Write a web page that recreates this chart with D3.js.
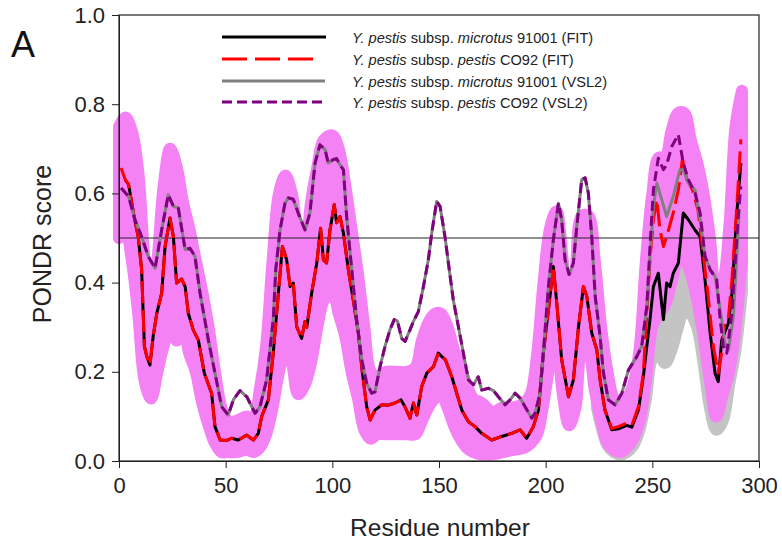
<!DOCTYPE html>
<html>
<head>
<meta charset="utf-8">
<script src="https://cdn.jsdelivr.net/npm/d3@7"></script>
<style>
  html, body { margin: 0; padding: 0; background: #fff; }
  svg { display: block; font-family: "Liberation Sans", Arial, sans-serif; }
</style>
</head>
<body>
<svg id="chart" width="782" height="546"></svg>
<script>
// ---------------- DATA ----------------
const xTicks = [0, 50, 100, 150, 200, 250, 300];
const yTicks = [0.0, 0.2, 0.4, 0.6, 0.8, 1.0];
const threshold = 0.5;

// Y. pestis subsp. pestis CO92 (FIT) – red dashed
const fitPestisRes = [1,3,4.5,7,9,10.6,11.9,13,14.5,16,17.7,20,21.6,23.9,25.5,27,29.4,31,32.5,34.8,37.2,40,43.4,45,47.4,50.5,52.8,55.9,59.9,63,65.3,66.9,70,72.3,74.7,76.6,78.6,80.2,81.7,83.3,85.6,87.2,88,90.3,92.7,94.5,95.8,97.3,98.9,100.9,102,103.6,105.2,107.5,109.8,112.2,114.1,116.1,117.7,120,123.2,126,129.4,132.2,134,136.4,138,139.6,141.9,144.3,147.4,149.7,152,153,156,158.3,160.7,163.8,166.9,170,174.7,179.4,184.1,188,191.1,194.2,196.6,198.9,201.3,203.6,205.2,207.5,210.7,213,215.4,217.7,219.3,221.6,224,225.5,227.8,231,234.1,238,240.4,243.5,245.8,247.4,248.9,250.5,252.1,253.6,255.2,256.7,259.8,262.2,264.1,266.2,268.8,271.4,273.8,276.2,278.6,280.9,282.5,284,285.7,287.3,289.6,291.5];
const fitPestisVal = [0.657,0.63,0.62,0.55,0.503,0.43,0.257,0.235,0.215,0.279,0.331,0.376,0.481,0.545,0.503,0.399,0.408,0.391,0.331,0.294,0.271,0.197,0.152,0.077,0.047,0.046,0.051,0.047,0.058,0.047,0.062,0.1,0.137,0.242,0.376,0.481,0.451,0.391,0.399,0.301,0.275,0.313,0.30,0.376,0.444,0.522,0.451,0.444,0.518,0.575,0.534,0.548,0.511,0.429,0.361,0.287,0.197,0.122,0.092,0.114,0.126,0.125,0.13,0.137,0.122,0.096,0.13,0.103,0.167,0.197,0.212,0.242,0.231,0.227,0.189,0.152,0.114,0.088,0.077,0.062,0.047,0.055,0.062,0.07,0.051,0.077,0.114,0.242,0.339,0.436,0.354,0.227,0.144,0.182,0.301,0.391,0.369,0.287,0.249,0.182,0.114,0.073,0.077,0.085,0.08,0.122,0.197,0.331,0.451,0.541,0.586,0.518,0.481,0.503,0.556,0.608,0.676,0.631,0.608,0.563,0.466,0.369,0.257,0.197,0.242,0.309,0.324,0.406,0.571,0.721];

// Y. pestis subsp. microtus 91001 (FIT) – black solid
const fitMicrotusRes = [3,4.5,7,9,10.6,11.9,13,14.5,16,17.7,20,21.6,23.9,25.5,27,29.4,31,32.5,34.8,37.2,40,43.4,45,47.4,50.5,52.8,55.9,59.9,63,65.3,66.9,70,72.3,74.7,76.6,78.6,80.2,81.7,83.3,85.6,87.2,88,90.3,92.7,94.5,95.8,97.3,98.9,100.9,102,103.6,105.2,107.5,109.8,112.2,114.1,116.1,117.7,120,123.2,126,129.4,132.2,134,136.4,138,139.6,141.9,144.3,147.4,149.7,152,153,156,158.3,160.7,163.8,166.9,170,174.7,179.4,184.1,188,191.1,194.2,196.6,198.9,201.3,203.6,205.2,207.5,210.7,213,215.4,217.7,219.3,221.6,224,225.5,227.8,231,234.1,238,240.4,243.5,245.8,247,248.9,250.5,252.8,255.2,256.7,258.3,259.8,262.2,264.5,266.9,270,272.4,274.7,277.1,279.4,280.9,282.5,285.7,287.3,289.6,291.5];
const fitMicrotusVal = [0.63,0.62,0.55,0.503,0.43,0.257,0.235,0.215,0.279,0.331,0.376,0.481,0.545,0.503,0.399,0.408,0.391,0.331,0.294,0.271,0.197,0.152,0.077,0.047,0.046,0.051,0.047,0.058,0.047,0.062,0.1,0.137,0.242,0.376,0.481,0.451,0.391,0.399,0.301,0.275,0.313,0.30,0.376,0.444,0.522,0.451,0.444,0.518,0.575,0.534,0.548,0.511,0.429,0.361,0.287,0.197,0.122,0.092,0.114,0.126,0.125,0.13,0.137,0.122,0.096,0.13,0.103,0.167,0.197,0.212,0.242,0.231,0.227,0.189,0.152,0.114,0.088,0.077,0.062,0.047,0.055,0.062,0.07,0.051,0.077,0.114,0.242,0.339,0.436,0.354,0.227,0.144,0.182,0.301,0.391,0.369,0.287,0.249,0.182,0.114,0.07,0.072,0.08,0.076,0.115,0.19,0.24,0.317,0.391,0.421,0.317,0.399,0.391,0.421,0.444,0.556,0.541,0.518,0.503,0.406,0.287,0.197,0.178,0.271,0.31,0.376,0.556,0.668];

// Y. pestis subsp. pestis CO92 (VSL2) – purple short-dashed
const vslPestisRes = [1,4.5,7.5,10.6,13.7,16.9,20,23.1,25.5,27.8,31,33.3,35.6,38,41.9,45,48.1,51.2,53.6,56.7,59.9,63.8,66.1,69.2,72.3,73.5,75.5,77.8,79.4,81.7,84,87.2,89.5,91.9,94.2,96.6,98.1,100.5,102,103.6,105.2,106.7,109.1,111.4,113.8,116.1,118.5,120,122.4,124.7,127,129,130.5,132.5,134.1,136.4,138,140.3,142.7,145,146.6,148.9,150.5,152.8,154.4,156.7,159.1,161.4,163.8,166.1,168.4,170,173.2,175.5,177.8,181,183.3,185.7,188,190.3,193.5,195,197.4,198.9,201.3,203.6,206,207.5,209.1,211,213,214.6,216.9,218.5,220,221.6,223.2,225.5,227,229.4,232.5,235.7,238.8,242.7,245,247.4,248.9,250.5,252.8,255.2,256.7,259.1,262.2,264.5,266.9,270,272.4,274.7,277.1,280.2,281.8,283.3,284.9,287.3,288.8,290.4,291.5];
const vslPestisVal = [0.612,0.593,0.541,0.503,0.459,0.432,0.518,0.597,0.571,0.567,0.474,0.477,0.459,0.376,0.271,0.197,0.122,0.103,0.137,0.158,0.144,0.107,0.122,0.182,0.317,0.43,0.518,0.578,0.59,0.587,0.556,0.518,0.556,0.668,0.709,0.698,0.668,0.676,0.678,0.664,0.653,0.548,0.429,0.317,0.227,0.174,0.152,0.155,0.212,0.257,0.294,0.317,0.314,0.275,0.268,0.294,0.313,0.335,0.391,0.451,0.511,0.582,0.571,0.503,0.444,0.361,0.301,0.242,0.182,0.171,0.189,0.159,0.163,0.158,0.144,0.126,0.137,0.152,0.141,0.122,0.096,0.107,0.152,0.242,0.391,0.496,0.578,0.541,0.451,0.418,0.444,0.526,0.631,0.635,0.601,0.503,0.37,0.28,0.2,0.137,0.126,0.152,0.204,0.234,0.257,0.346,0.481,0.608,0.679,0.653,0.664,0.705,0.732,0.668,0.631,0.601,0.556,0.459,0.429,0.406,0.317,0.257,0.242,0.331,0.444,0.556,0.616];

// Y. pestis subsp. microtus 91001 (VSL2) – gray solid
const vslMicrotusRes = [1,4.5,7.5,10.6,13.7,16.9,20,23.1,25.5,27.8,31,33.3,35.6,38,41.9,45,48.1,51.2,53.6,56.7,59.9,63.8,66.1,69.2,72.3,73.5,75.5,77.8,79.4,81.7,84,87.2,89.5,91.9,94.2,96.6,98.1,100.5,102,103.6,105.2,106.7,109.1,111.4,113.8,116.1,118.5,120,122.4,124.7,127,129,130.5,132.5,134.1,136.4,138,140.3,142.7,145,146.6,148.9,150.5,152.8,154.4,156.7,159.1,161.4,163.8,166.1,168.4,170,173.2,175.5,177.8,181,183.3,185.7,188,190.3,193.5,195,197.4,198.9,201.3,203.6,206,207.5,209.1,211,213,214.6,216.9,218.5,220,221.6,223.2,225.5,227,229.4,232.5,235.7,238.8,242.7,245,247.4,248.9,250.5,252.1,254.4,256.7,259.8,262.9,264.5,266.9,270,272.4,274.7,277.1,279.4,282.5,284,285.7,288,289.6,290.7];
const vslMicrotusVal = [0.612,0.593,0.541,0.503,0.459,0.432,0.518,0.597,0.571,0.567,0.474,0.477,0.459,0.376,0.271,0.197,0.122,0.103,0.137,0.158,0.144,0.107,0.122,0.182,0.317,0.43,0.518,0.578,0.59,0.587,0.556,0.518,0.556,0.668,0.709,0.698,0.668,0.676,0.678,0.664,0.653,0.548,0.429,0.317,0.227,0.174,0.152,0.155,0.212,0.257,0.294,0.317,0.314,0.275,0.268,0.294,0.313,0.335,0.391,0.451,0.511,0.582,0.571,0.503,0.444,0.361,0.301,0.242,0.182,0.171,0.189,0.159,0.163,0.158,0.144,0.126,0.137,0.152,0.141,0.122,0.096,0.107,0.152,0.242,0.391,0.496,0.578,0.541,0.451,0.418,0.444,0.526,0.631,0.635,0.601,0.503,0.37,0.28,0.2,0.137,0.126,0.152,0.204,0.234,0.257,0.346,0.46,0.571,0.623,0.586,0.548,0.593,0.653,0.653,0.623,0.608,0.541,0.459,0.43,0.414,0.317,0.264,0.249,0.324,0.459,0.563];

// Variability band around pestis FIT (magenta)
const bandRes  = [0,3,6,9,12,15,18,21,24,27,30,33,36,39,42,45,48,51,55,60,63,66,69,72,75,78,81,84,87,90,93,96,100,103,106,109,112,115,118,121,125,130,135,139,142,145,148,151,154,157,160,163,166,170,175,180,185,190,193,196,199,202,205,208,211,214,217,220,223,226,229,232,235,238,241,244,247,250,253,256,259,262,265,268,271,274,277,280,283,286,289,292];
const bandHigh = [0.75,0.77,0.74,0.65,0.45,0.35,0.45,0.62,0.70,0.66,0.58,0.52,0.45,0.38,0.30,0.20,0.12,0.09,0.09,0.10,0.09,0.16,0.26,0.45,0.60,0.64,0.60,0.50,0.46,0.58,0.66,0.72,0.73,0.70,0.62,0.52,0.42,0.30,0.20,0.19,0.20,0.20,0.20,0.21,0.27,0.31,0.33,0.33,0.30,0.25,0.21,0.17,0.14,0.13,0.11,0.12,0.12,0.13,0.15,0.24,0.40,0.52,0.56,0.45,0.30,0.42,0.55,0.55,0.45,0.30,0.20,0.14,0.13,0.14,0.17,0.25,0.45,0.60,0.68,0.68,0.74,0.78,0.78,0.72,0.67,0.60,0.50,0.38,0.40,0.52,0.75,0.83];
const bandLow  = [0.50,0.52,0.45,0.33,0.18,0.14,0.20,0.26,0.30,0.27,0.30,0.24,0.20,0.13,0.08,0.04,0.02,0.02,0.02,0.025,0.02,0.03,0.06,0.12,0.20,0.25,0.22,0.15,0.17,0.22,0.30,0.36,0.38,0.33,0.28,0.20,0.14,0.07,0.05,0.06,0.06,0.06,0.06,0.06,0.09,0.12,0.14,0.15,0.12,0.08,0.05,0.03,0.02,0.015,0.015,0.02,0.025,0.03,0.04,0.06,0.13,0.22,0.27,0.15,0.08,0.12,0.24,0.24,0.16,0.09,0.04,0.025,0.02,0.03,0.05,0.09,0.18,0.30,0.33,0.35,0.40,0.45,0.45,0.42,0.36,0.28,0.18,0.10,0.15,0.20,0.30,0.45];

// Variability band around microtus FIT (gray, only visible where it departs)
const grayRes  = [224,226,229,232,235,238,241,244,247,250,253,256,259,262,265,268,271,274,277,280,283,286,289,292];
const grayHigh = [0.36,0.29,0.19,0.13,0.12,0.13,0.15,0.22,0.32,0.44,0.48,0.45,0.50,0.55,0.62,0.62,0.58,0.52,0.40,0.30,0.33,0.45,0.65,0.74];
const grayLow  = [0.12,0.08,0.035,0.02,0.015,0.02,0.035,0.07,0.14,0.23,0.24,0.22,0.25,0.30,0.34,0.33,0.30,0.22,0.12,0.07,0.09,0.17,0.25,0.38];

const legendLabels = [
  ["Y. ", "pestis", " subsp. ", "microtus", " 91001 (FIT)"],
  ["Y. ", "pestis", " subsp. ", "pestis", " CO92 (FIT)"],
  ["Y. ", "pestis", " subsp. ", "microtus", " 91001 (VSL2)"],
  ["Y. ", "pestis", " subsp. ", "pestis", " CO92 (VSL2)"]
];

// ---------------- DRAW ----------------
const svg = d3.select("#chart");
const L = 119, R = 759, T = 15, B = 461;
const x = d3.scaleLinear().domain([0, 300]).range([L, R]);
const y = d3.scaleLinear().domain([0, 1]).range([B, T]);

const zip = (a, b) => a.map((v, i) => [v, b[i]]);

// bands
function band(res, hi, lo, color) {
  const pts = res.map((r, i) => ({ r, hi: hi[i], lo: lo[i] }));
  const area = d3.area().x(d => x(d.r)).y0(d => y(d.lo)).y1(d => y(d.hi)).curve(d3.curveCatmullRom);
  svg.append("path").attr("d", area(pts)).attr("fill", color)
     .attr("stroke", color).attr("stroke-width", 12).attr("stroke-linejoin", "round");
}
band(grayRes, grayHigh, grayLow, "#c4c4c4");
band(bandRes, bandHigh, bandLow, "#f582f5");

// 0.5 line
svg.append("line").attr("x1", x(0)).attr("x2", x(300)).attr("y1", y(threshold)).attr("y2", y(threshold))
   .attr("stroke", "#222").attr("stroke-width", 1.2);

const line = d3.line().x(d => x(d[0])).y(d => y(d[1]));
function series(res, val, color, dash, w) {
  svg.append("path").attr("d", line(zip(res, val))).attr("fill", "none")
     .attr("stroke", color).attr("stroke-width", w).attr("stroke-dasharray", dash)
     .attr("stroke-linejoin", "round");
}
series(fitMicrotusRes, fitMicrotusVal, "#000", null, 3);
series(fitPestisRes, fitPestisVal, "#ff0000", "22,7", 3);
series(vslMicrotusRes, vslMicrotusVal, "#808080", null, 3);
series(vslPestisRes, vslPestisVal, "#800080", "10,5", 3);

// frame
svg.append("rect").attr("x", L).attr("y", T).attr("width", R - L).attr("height", B - T)
   .attr("fill", "none").attr("stroke", "#222").attr("stroke-width", 1.2);

// axes
const xAxis = d3.axisBottom(x).tickValues(xTicks).tickSize(7).tickSizeOuter(0).tickFormat(d3.format("d"));
const gx = svg.append("g").attr("transform", `translate(0,${B})`).call(xAxis);
gx.select(".domain").attr("stroke", "#222");
gx.selectAll("line").attr("stroke", "#222");
gx.selectAll("text").attr("font-size", 22).attr("fill", "#222").attr("dy", "1.0em")
  .attr("font-family", "Liberation Sans, Arial, sans-serif");

const yAxis = d3.axisLeft(y).tickValues(yTicks).tickSize(7).tickSizeOuter(0).tickFormat(d3.format(".1f"));
const gy = svg.append("g").attr("transform", `translate(${L},0)`).call(yAxis);
gy.select(".domain").attr("stroke", "#222");
gy.selectAll("line").attr("stroke", "#222");
gy.selectAll("text").attr("font-size", 22).attr("fill", "#222").attr("x", -14)
  .attr("font-family", "Liberation Sans, Arial, sans-serif");

// axis titles
svg.append("text").attr("x", (L + R) / 2 + 1).attr("y", 536).attr("text-anchor", "middle")
   .attr("font-size", 24.5).attr("fill", "#222").text("Residue number");
svg.append("text").attr("transform", `translate(51,244) rotate(-90)`)
   .attr("text-anchor", "middle").attr("font-size", 25).attr("fill", "#222").text("PONDR score");

// panel letter
svg.append("text").attr("x", 11).attr("y", 57).attr("font-size", 36).attr("fill", "#111").text("A");

// legend
const legY = [37, 59, 81, 102];
const legStyle = [
  { c: "#000", d: null, x2: 326 },
  { c: "#ff0000", d: "25,8", x2: 315 },
  { c: "#808080", d: null, x2: 325 },
  { c: "#800080", d: "10,5", x2: 325 }
];
legendLabels.forEach((parts, i) => {
  const s = legStyle[i];
  svg.append("line").attr("x1", 222).attr("x2", s.x2).attr("y1", legY[i]).attr("y2", legY[i])
     .attr("stroke", s.c).attr("stroke-width", 3).attr("stroke-dasharray", s.d);
  const t = svg.append("text").attr("x", 352).attr("y", legY[i] + 5.5).attr("font-size", 14.6).attr("fill", "#222");
  parts.forEach((p, j) => {
    t.append("tspan").attr("font-style", (j === 0 || j === 1 || j === 3) ? "italic" : "normal").text(p);
  });
});
</script>
</body>
</html>
